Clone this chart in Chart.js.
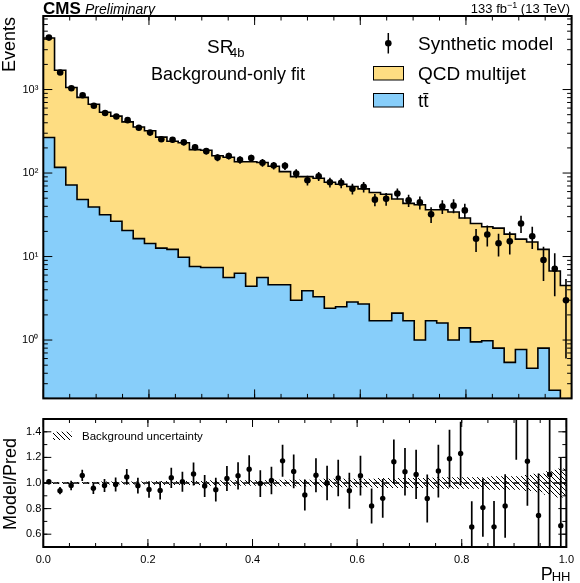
<!DOCTYPE html>
<html>
<head>
<meta charset="utf-8">
<script src="https://cdn.jsdelivr.net/npm/chart.js@4.4.0/dist/chart.umd.min.js"></script>
<style>
  html, body { margin: 0; padding: 0; background: #fff; }
  #wrap { position: relative; width: 580px; height: 583px; }
  canvas { position: absolute; left: 0; }
  #main { top: 0; }
  #ratio { top: 410px; }
</style>
</head>
<body>
<div id="wrap">
  <canvas id="main" width="580" height="410"></canvas>
  <canvas id="ratio" width="580" height="173"></canvas>
</div>
<script>
// P_HH binning: 47 uniform bins on [0, 1]
const xMin = 0, xMax = 1, nBins = 47;

// predicted yields per bin
const qcdYields = [
  3883, 1583, 987, 758, 627, 503, 454, 390, 339, 307,
  257, 228, 221, 183, 180, 154, 149, 130, 132, 128,
  116, 99.4, 87.6, 86.7, 83.2, 75.2, 71.0, 66.2, 61.9, 56.8,
  54.1, 46.7, 41.6, 40.7, 34.7, 34.8, 33.2, 27.6, 23.9, 21.8,
  21.1, 18.0, 15.4, 14.5, 11.4, 6.45, 4.35
];
const ttbarYields = [
  267, 117, 72, 48.3, 39.2, 31.7, 26.5, 20.5, 16.4, 14.3,
  12.6, 12.2, 9.8, 7.6, 7.4, 7.4, 5.6, 6.3, 4.4, 5.6,
  4.6, 4.6, 3.0, 3.9, 3.3, 2.4, 2.5, 2.85, 2.7, 1.7,
  1.7, 2.1, 1.7, 1.0, 1.7, 1.6, 1.0, 1.4, 0.95, 0.98,
  0.8, 0.54, 0.77, 0.46, 0.8, 0.25, 0.15
];
// synthetic model points and their errors
const modelYields = [
  4190, 1598, 1038, 854, 639, 524, 475, 430, 348, 305,
  254, 250, 233, 204, 183, 153, 160, 144, 151, 133,
  123, 122, 98.8, 82.1, 91.7, 77.6, 76.4, 64.9, 68.3, 48.0,
  49.1, 56.9, 47.1, 44.5, 32.0, 39.8, 40.7, 35.7, 16.3, 18.4,
  14.4, 15.2, 24.9, 17.5, 9.1, 7.15, 3.0
];
const modelErrors = [
  78, 48, 39, 35, 30, 27, 26, 25, 22, 21,
  19, 19, 18, 17, 16, 15, 15, 14.5, 15, 14,
  13, 13, 12, 11, 11.5, 10.5, 10.5, 9.7, 10, 8,
  8.4, 8.5, 8, 8, 6.8, 7.5, 7.7, 7.2, 5, 5.2,
  4.4, 4.6, 5.8, 5.2, 4, 3.8, 2.4
];
// relative background uncertainty (hatched band)
const bkgRelUnc = [
  0.006, 0.006, 0.006, 0.006, 0.006, 0.009, 0.009, 0.009, 0.009, 0.009,
  0.013, 0.013, 0.013, 0.013, 0.013, 0.018, 0.018, 0.018, 0.018, 0.018,
  0.023, 0.023, 0.023, 0.023, 0.023, 0.03, 0.03, 0.03, 0.03, 0.03,
  0.036, 0.036, 0.036, 0.036, 0.036, 0.042, 0.042, 0.042, 0.042, 0.042,
  0.05, 0.05, 0.05, 0.06, 0.07, 0.09, 0.11
];

const yTickValues = [1, 10, 100, 1000];
const yTickLabels = ['10\u2070', '10\u00b9', '10\u00b2', '10\u00b3'];
const ratioTickValues = [0.6, 0.8, 1.0, 1.2, 1.4];
const xTickValues = [0, 0.2, 0.4, 0.6, 0.8, 1.0];

const FONT = "'Liberation Sans', Arial, Helvetica, sans-serif";
const yellow = 'rgb(254,221,130)';
const blue = 'rgb(135,206,250)';
Chart.defaults.font.family = FONT;
Chart.defaults.color = '#000';

const edges = [];
for (let i = 0; i <= nBins; i++) edges.push(xMin + (xMax - xMin) * i / nBins);
const centers = edges.slice(0, nBins).map((e, i) => (e + edges[i + 1]) / 2);
const totalYields = qcdYields.map((q, i) => q + ttbarYields[i]);

function stepPoints(vals) {
  const pts = vals.map((v, i) => ({x: edges[i], y: v}));
  pts.push({x: edges[nBins], y: vals[nBins - 1]});
  return pts;
}

function hatchPattern(ctx) {
  const s = 5;
  const c = document.createElement('canvas');
  c.width = s; c.height = s;
  const g = c.getContext('2d');
  g.strokeStyle = '#000';
  g.lineWidth = 1;
  g.beginPath();
  g.moveTo(0, 0); g.lineTo(s, s);
  g.moveTo(-1, s - 1); g.lineTo(1, s + 1);
  g.moveTo(s - 1, -1); g.lineTo(s + 1, 1);
  g.stroke();
  return ctx.createPattern(c, 'repeat');
}

// vertical error bars for datasets carrying an `errors` array
const errorBars = {
  id: 'errorBars',
  afterDatasetsDraw(chart) {
    const {ctx, chartArea: a, scales: {x, y}} = chart;
    ctx.save();
    ctx.beginPath();
    ctx.rect(a.left, a.top, a.right - a.left, a.bottom - a.top);
    ctx.clip();
    ctx.strokeStyle = '#000';
    chart.data.datasets.forEach(ds => {
      if (!ds.errors) return;
      ctx.lineWidth = ds.errWidth || 1.5;
      ds.data.forEach((p, i) => {
        const e = ds.errors[i];
        const lo = p.y - e;
        const px = x.getPixelForValue(p.x);
        const y0 = lo > 0 ? y.getPixelForValue(lo) : a.bottom + 5;
        const y1 = y.getPixelForValue(p.y + e);
        ctx.beginPath();
        ctx.moveTo(px, Math.min(y0, a.bottom + 5));
        ctx.lineTo(px, y1);
        ctx.stroke();
      });
    });
    ctx.restore();
  }
};

// frame with inward ticks on all four sides
function frameTicks(xMajor, xMinor, yMajor, yMinor, lenMaj, lenMin) {
  return {
    id: 'frameTicks',
    afterDraw(chart) {
      const {ctx, chartArea: a, scales: {x, y}} = chart;
      ctx.save();
      ctx.strokeStyle = '#000';
      ctx.lineWidth = 1;
      ctx.beginPath();
      const tx = (vals, len) => vals.forEach(v => {
        const px = x.getPixelForValue(v);
        ctx.moveTo(px, a.bottom); ctx.lineTo(px, a.bottom - len);
        ctx.moveTo(px, a.top); ctx.lineTo(px, a.top + len);
      });
      const ty = (vals, len) => vals.forEach(v => {
        const py = y.getPixelForValue(v);
        if (py < a.top || py > a.bottom) return;
        ctx.moveTo(a.left, py); ctx.lineTo(a.left + len, py);
        ctx.moveTo(a.right, py); ctx.lineTo(a.right - len, py);
      });
      tx(xMajor, lenMaj); tx(xMinor, lenMin);
      ty(yMajor, lenMaj); ty(yMinor, lenMin);
      ctx.stroke();
      ctx.lineWidth = 2;
      ctx.strokeRect(a.left, a.top, a.right - a.left, a.bottom - a.top);
      ctx.restore();
    }
  };
}

const xMinor = [];
for (let v = 0.05; v < 1; v += 0.05) xMinor.push(v);
const logMinor = [];
for (let d = 0.1; d <= 1000; d *= 10) for (let k = 2; k <= 9; k++) logMinor.push(k * d);

const mainText = {
  id: 'mainText',
  afterDraw(chart) {
    const ctx = chart.ctx;
    ctx.save();
    ctx.fillStyle = '#000';
    ctx.textBaseline = 'alphabetic';
    ctx.font = 'bold 17px ' + FONT;
    ctx.fillText('CMS', 43, 14);
    ctx.font = 'italic 14px ' + FONT;
    ctx.fillText('Preliminary', 85, 14);
    // luminosity label, right aligned
    const partA = '133 fb', partC = ' (13 TeV)';
    ctx.font = '9px ' + FONT;
    const wB = ctx.measureText('\u22121').width;
    ctx.font = '13px ' + FONT;
    const wA = ctx.measureText(partA).width, wC = ctx.measureText(partC).width;
    const x0 = 570 - wA - wB - wC;
    ctx.fillText(partA, x0, 13);
    ctx.font = '9px ' + FONT;
    ctx.fillText('\u22121', x0 + wA, 8);
    ctx.font = '13px ' + FONT;
    ctx.fillText(partC, x0 + wA + wB, 13);

    ctx.font = '19px ' + FONT;
    ctx.fillText('SR', 207, 53);
    ctx.font = '13px ' + FONT;
    ctx.fillText('4b', 230, 57);
    ctx.font = '18px ' + FONT;
    ctx.textAlign = 'center';
    ctx.fillText('Background-only fit', 228, 80);
    ctx.textAlign = 'left';

    // legend
    ctx.font = '19px ' + FONT;
    ctx.beginPath();
    ctx.arc(388.3, 43.3, 3.3, 0, Math.PI * 2);
    ctx.fill();
    ctx.lineWidth = 1.5;
    ctx.beginPath();
    ctx.moveTo(388.3, 33); ctx.lineTo(388.3, 53.5);
    ctx.stroke();
    ctx.fillText('Synthetic model', 418, 50);
    ctx.lineWidth = 1;
    ctx.fillStyle = yellow;
    ctx.fillRect(373.5, 66.5, 30, 13.5);
    ctx.strokeRect(373.5, 66.5, 30, 13.5);
    ctx.fillStyle = blue;
    ctx.fillRect(373.5, 93.5, 30, 13.5);
    ctx.strokeRect(373.5, 93.5, 30, 13.5);
    ctx.fillStyle = '#000';
    ctx.fillText('QCD multijet', 418, 80);
    ctx.fillText('tt\u0304', 418, 107);

    // y title
    ctx.save();
    ctx.translate(15, 17);
    ctx.rotate(-Math.PI / 2);
    ctx.textAlign = 'right';
    ctx.font = '18px ' + FONT;
    ctx.fillText('Events', 0, 0);
    ctx.restore();
    ctx.restore();
  }
};

new Chart(document.getElementById('main'), {
  type: 'line',
  data: {
    datasets: [
      {
        label: 'Synthetic model',
        data: modelYields.map((v, i) => ({x: centers[i], y: v})),
        showLine: false,
        pointRadius: 3.3,
        pointBackgroundColor: '#000',
        pointBorderWidth: 0,
        errors: modelErrors,
        errWidth: 1.6,
        order: 1
      },
      {
        label: 'tt\u0304',
        data: stepPoints(ttbarYields),
        stepped: true,
        fill: 'start',
        backgroundColor: blue,
        borderColor: '#000',
        borderWidth: 1.6,
        pointRadius: 0,
        order: 2
      },
      {
        label: 'QCD multijet',
        data: stepPoints(totalYields),
        stepped: true,
        fill: 'start',
        backgroundColor: yellow,
        borderColor: '#000',
        borderWidth: 1.6,
        pointRadius: 0,
        order: 3
      }
    ]
  },
  options: {
    responsive: false,
    animation: false,
    events: [],
    layout: {padding: {top: 16, right: 8.4, bottom: 7, left: 0}},
    scales: {
      x: {type: 'linear', min: xMin, max: xMax, display: false},
      y: {
        type: 'logarithmic',
        min: 0.2,
        max: 7600,
        grid: {display: false, drawTicks: false},
        border: {display: false},
        afterBuildTicks: s => { s.ticks = yTickValues.map(v => ({value: v})); },
        afterFit: s => { s.width = 43.3; },
        ticks: {
          padding: 5,
          font: {size: 11},
          callback: v => yTickLabels[yTickValues.indexOf(v)]
        }
      }
    },
    plugins: {legend: {display: false}, tooltip: {enabled: false}}
  },
  plugins: [errorBars, frameTicks([0, 0.2, 0.4, 0.6, 0.8, 1.0], xMinor, yTickValues, logMinor, 9, 4.5), mainText]
});

// ratio panel
const ratioCtx = document.getElementById('ratio').getContext('2d');
const hatch = hatchPattern(ratioCtx);
const ratioMinorY = [];
for (let v = 0.5; v <= 1.5001; v += 0.1) ratioMinorY.push(v);

const ratioText = {
  id: 'ratioText',
  afterDraw(chart) {
    const ctx = chart.ctx;
    ctx.save();
    ctx.fillStyle = hatch;
    ctx.fillRect(53, 21.7, 19, 8.3);
    ctx.fillStyle = '#000';
    ctx.font = '11.5px ' + FONT;
    ctx.fillText('Background uncertainty', 82, 29.5);
    ctx.font = '18px ' + FONT;
    ctx.fillText('P', 540.7, 170);
    ctx.font = '13px ' + FONT;
    ctx.fillText('HH', 551.7, 171);
    ctx.translate(16, 74);
    ctx.rotate(-Math.PI / 2);
    ctx.textAlign = 'center';
    ctx.font = '18px ' + FONT;
    ctx.fillText('Model/Pred', 0, 0);
    ctx.restore();
  }
};

new Chart(ratioCtx, {
  type: 'line',
  data: {
    datasets: [
      {
        label: 'Model/Pred',
        data: modelYields.map((v, i) => ({x: centers[i], y: v / totalYields[i]})),
        showLine: false,
        pointRadius: 2.7,
        pointBackgroundColor: '#000',
        pointBorderWidth: 0,
        errors: modelErrors.map((e, i) => e / totalYields[i]),
        errWidth: 1.7,
        order: 1
      },
      {
        data: [{x: xMin, y: 1}, {x: xMax, y: 1}],
        borderColor: '#000',
        borderWidth: 1.5,
        borderDash: [6, 4],
        pointRadius: 0,
        order: 2
      },
      {
        type: 'bar',
        label: 'Background uncertainty',
        data: bkgRelUnc.map((u, i) => ({x: centers[i], y: [1 - u, 1 + u]})),
        backgroundColor: hatch,
        borderWidth: 0,
        barPercentage: 1,
        categoryPercentage: 1,
        order: 3
      }
    ]
  },
  options: {
    responsive: false,
    animation: false,
    events: [],
    layout: {padding: {top: 9, right: 8.4, bottom: 0, left: 0}},
    scales: {
      x: {
        type: 'linear', min: xMin, max: xMax, offset: false,
        grid: {display: false, drawTicks: false},
        border: {display: false},
        afterBuildTicks: s => { s.ticks = xTickValues.map(v => ({value: v})); },
        afterFit: s => { s.height = 36; },
        ticks: {padding: 6, font: {size: 11}, maxRotation: 0, callback: v => v.toFixed(1)}
      },
      y: {
        min: 0.5, max: 1.5,
        grid: {display: false, drawTicks: false},
        border: {display: false},
        afterBuildTicks: s => { s.ticks = ratioTickValues.map(v => ({value: v})); },
        afterFit: s => { s.width = 43.3; },
        ticks: {padding: 2, font: {size: 11}, callback: v => v.toFixed(1)}
      }
    },
    plugins: {legend: {display: false}, tooltip: {enabled: false}}
  },
  plugins: [errorBars, frameTicks(xTickValues, xMinor, ratioTickValues, ratioMinorY, 8, 4), ratioText]
});
</script>
</body>
</html>
